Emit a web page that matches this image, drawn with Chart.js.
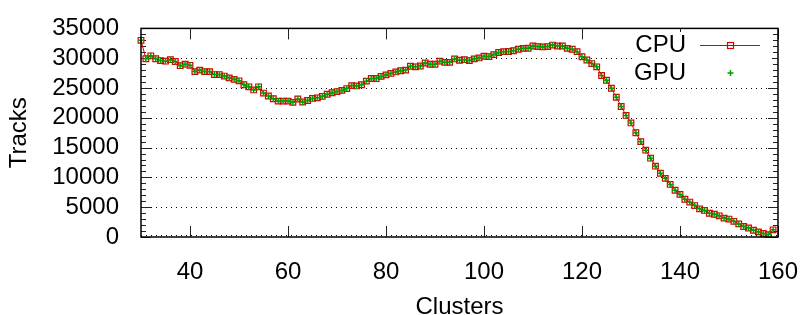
<!DOCTYPE html>
<html>
<head>
<meta charset="utf-8">
<script src="https://cdn.jsdelivr.net/npm/chart.js@4.4.1/dist/chart.umd.min.js"></script>
<style>
  html, body { margin: 0; padding: 0; background: #fff; }
  canvas { display: block; }
</style>
</head>
<body>
<canvas id="tracksChart" width="811" height="315"></canvas>
<script>
"use strict";

// number of clusters (x)
var clusters = [
  30, 31, 32, 33, 34, 35, 36, 37, 38, 39,
  40, 41, 42, 43, 44, 45, 46, 47, 48, 49,
  50, 51, 52, 53, 54, 55, 56, 57, 58, 59,
  60, 61, 62, 63, 64, 65, 66, 67, 68, 69,
  70, 71, 72, 73, 74, 75, 76, 77, 78, 79,
  80, 81, 82, 83, 84, 85, 86, 87, 88, 89,
  90, 91, 92, 93, 94, 95, 96, 97, 98, 99,
  100, 101, 102, 103, 104, 105, 106, 107, 108, 109,
  110, 111, 112, 113, 114, 115, 116, 117, 118, 119,
  120, 121, 122, 123, 124, 125, 126, 127, 128, 129,
  130, 131, 132, 133, 134, 135, 136, 137, 138, 139,
  140, 141, 142, 143, 144, 145, 146, 147, 148, 149,
  150, 151, 152, 153, 154, 155, 156, 157, 158, 159
];

// tracks found, CPU run
var cpuTracks = [
  33000, 29900, 30400, 29900, 29600, 29500, 29750, 29450, 28750, 29000,
  28800, 27750, 28000, 27750, 27750, 27250, 27250, 27000, 26700, 26450,
  26200, 25550, 25200, 24680, 25200, 24150, 23650, 23200, 22800, 22800,
  22800, 22600, 23150, 22650, 22900, 23250, 23350, 23600, 23950, 24200,
  24400, 24600, 24900, 25400, 25350, 25550, 26150, 26600, 26600, 26950,
  27200, 27450, 27700, 27900, 28000, 28650, 28550, 28700, 29200, 28980,
  28980, 29500, 29300, 29300, 29880, 29650, 29750, 29600, 29890, 30050,
  30320, 30270, 30600, 30950, 31100, 31130, 31250, 31500, 31650, 31670,
  32050, 31950, 31900, 31950, 32200, 32050, 32050, 31650, 31500, 31100,
  30250, 29700, 29100, 28550, 27100, 26300, 24950, 23450, 21900, 20400,
  19140, 17500, 16000, 14570, 13230, 11880, 10700, 9840, 8820, 7850,
  7150, 6340, 5860, 5270, 4730, 4460, 3980, 3820, 3550, 3170,
  3010, 2630, 2200, 1770, 1510, 1130, 860, 590, 400, 1200
];

// tracks found, GPU run (lands on the CPU points)
var gpuTracks = [
  33000, 29900, 30400, 29900, 29600, 29500, 29750, 29450, 28750, 29000,
  28800, 27750, 28000, 27750, 27750, 27250, 27250, 27000, 26700, 26450,
  26200, 25550, 25200, 24680, 25200, 24150, 23650, 23200, 22800, 22800,
  22800, 22600, 23150, 22650, 22900, 23250, 23350, 23600, 23950, 24200,
  24400, 24600, 24900, 25400, 25350, 25550, 26150, 26600, 26600, 26950,
  27200, 27450, 27700, 27900, 28000, 28650, 28550, 28700, 29200, 28980,
  28980, 29500, 29300, 29300, 29880, 29650, 29750, 29600, 29890, 30050,
  30320, 30270, 30600, 30950, 31100, 31130, 31250, 31500, 31650, 31670,
  32050, 31950, 31900, 31950, 32200, 32050, 32050, 31650, 31500, 31100,
  30250, 29700, 29100, 28550, 27100, 26300, 24950, 23450, 21900, 20400,
  19140, 17500, 16000, 14570, 13230, 11880, 10700, 9840, 8820, 7850,
  7150, 6340, 5860, 5270, 4730, 4460, 3980, 3820, 3550, 3170,
  3010, 2630, 2200, 1770, 1510, 1130, 860, 590, 400, 1200
];

var xTicks = [40, 60, 80, 100, 120, 140, 160];
var yTicks = [0, 5000, 10000, 15000, 20000, 25000, 30000, 35000];

var FONT = "'Liberation Sans', Arial, Helvetica, sans-serif";
var CPU_COLOR = '#d80000';
var GPU_COLOR = '#00a000';

function toPoints(xs, ys) {
  return xs.map(function (x, i) { return { x: x, y: ys[i] }; });
}

// gnuplot look: dotted grid, inward ticks, key box, frame
var gnuplotFrame = {
  id: 'gnuplotFrame',
  beforeDatasetsDraw(chart) {
    const { ctx, chartArea: a, scales } = chart;
    const xs = scales.x, ys = scales.y;
    ctx.save();

    // dotted horizontal grid
    ctx.strokeStyle = '#000';
    ctx.lineWidth = 1;
    ctx.setLineDash([1, 4]);
    yTicks.forEach(function (v) {
      if (v === 35000) return;
      let py = Math.round(ys.getPixelForValue(v)) + 0.5;
      if (v === 0) py -= 2;
      ctx.beginPath();
      ctx.moveTo(a.left, py);
      ctx.lineTo(a.right, py);
      ctx.stroke();
    });
    ctx.setLineDash([]);

    // ticks
    ctx.strokeStyle = '#222';
    ctx.lineWidth = 1;
    ctx.beginPath();
    for (let v = 0; v <= 35000; v += 1000) {
      const py = Math.round(ys.getPixelForValue(v)) + 0.5;
      const len = (v % 5000 === 0) ? 10 : 5;
      ctx.moveTo(a.left, py); ctx.lineTo(a.left + len, py);
      ctx.moveTo(a.right, py); ctx.lineTo(a.right - len, py);
    }
    xTicks.forEach(function (v) {
      const px = Math.round(xs.getPixelForValue(v)) + 0.5;
      ctx.moveTo(px, a.bottom); ctx.lineTo(px, a.bottom - 11);
      ctx.moveTo(px, a.top); ctx.lineTo(px, a.top + 11);
    });
    ctx.stroke();

    // key
    ctx.fillStyle = '#fff';
    ctx.fillRect(632, 32, 140, 54);
    ctx.fillStyle = '#000';
    ctx.font = '24px ' + FONT;
    ctx.textAlign = 'right';
    ctx.textBaseline = 'middle';
    ctx.fillText('CPU', 686, 45);
    ctx.fillText('GPU', 686, 73);

    ctx.strokeStyle = CPU_COLOR;
    ctx.lineWidth = 1;
    ctx.beginPath();
    ctx.moveTo(700, 45.5); ctx.lineTo(760, 45.5);
    ctx.stroke();
    ctx.lineWidth = 1.2;
    ctx.strokeRect(727.5, 42.5, 6, 6);

    ctx.strokeStyle = GPU_COLOR;
    ctx.lineWidth = 1.5;
    ctx.beginPath();
    ctx.moveTo(727.5, 73); ctx.lineTo(733.5, 73);
    ctx.moveTo(730.5, 70); ctx.lineTo(730.5, 76);
    ctx.stroke();
    ctx.restore();
  },
  afterDatasetsDraw(chart) {
    const { ctx, chartArea: a } = chart;
    ctx.save();
    ctx.strokeStyle = '#000';
    ctx.lineWidth = 1.5;
    ctx.strokeRect(a.left, a.top, a.right - a.left, a.bottom - a.top);
    ctx.restore();
  }
};

Chart.defaults.font.family = FONT;
Chart.defaults.color = '#000';

var ctx = document.getElementById('tracksChart').getContext('2d');
var tracksChart = new Chart(ctx, {
  type: 'line',
  data: {
    datasets: [{
      label: 'CPU',
      data: toPoints(clusters, cpuTracks),
      borderColor: CPU_COLOR,
      borderWidth: 1,
      pointStyle: 'rect',
      pointRadius: 4,
      pointBorderWidth: 1.2,
      pointBorderColor: CPU_COLOR,
      pointBackgroundColor: 'rgba(0,0,0,0)',
      tension: 0,
      clip: false,
      order: 2
    }, {
      label: 'GPU',
      data: toPoints(clusters, gpuTracks),
      showLine: false,
      pointStyle: 'cross',
      pointRadius: 3,
      pointBorderWidth: 1.5,
      pointBorderColor: GPU_COLOR,
      pointBackgroundColor: GPU_COLOR,
      clip: false,
      order: 1
    }]
  },
  options: {
    responsive: false,
    animation: false,
    events: [],
    layout: {
      padding: { left: 0, top: 20, right: 25, bottom: 0 }
    },
    plugins: {
      legend: { display: false },
      tooltip: { enabled: false }
    },
    scales: {
      x: {
        type: 'linear',
        min: 30,
        max: 160,
        grid: { display: false },
        border: { display: false },
        afterBuildTicks: function (scale) {
          scale.ticks = xTicks.map(function (v) { return { value: v }; });
        },
        afterFit: function (scale) { scale.height = 78; },
        ticks: {
          font: { size: 24 },
          padding: 13,
          maxRotation: 0,
          autoSkip: false
        },
        title: {
          display: true,
          text: 'Clusters',
          font: { size: 24 },
          padding: { top: 0, bottom: -7 }
        }
      },
      y: {
        type: 'linear',
        min: 0,
        max: 35000,
        grid: { display: false },
        border: { display: false },
        afterBuildTicks: function (scale) {
          scale.ticks = yTicks.map(function (v) { return { value: v }; });
        },
        afterFit: function (scale) { scale.width = 141; },
        ticks: {
          font: { size: 24 },
          padding: 14,
          autoSkip: false,
          callback: function (v) { return String(v); }
        },
        title: {
          display: true,
          text: 'Tracks',
          font: { size: 24 },
          padding: { top: 5, bottom: 0 }
        }
      }
    }
  },
  plugins: [gnuplotFrame]
});
</script>
</body>
</html>
